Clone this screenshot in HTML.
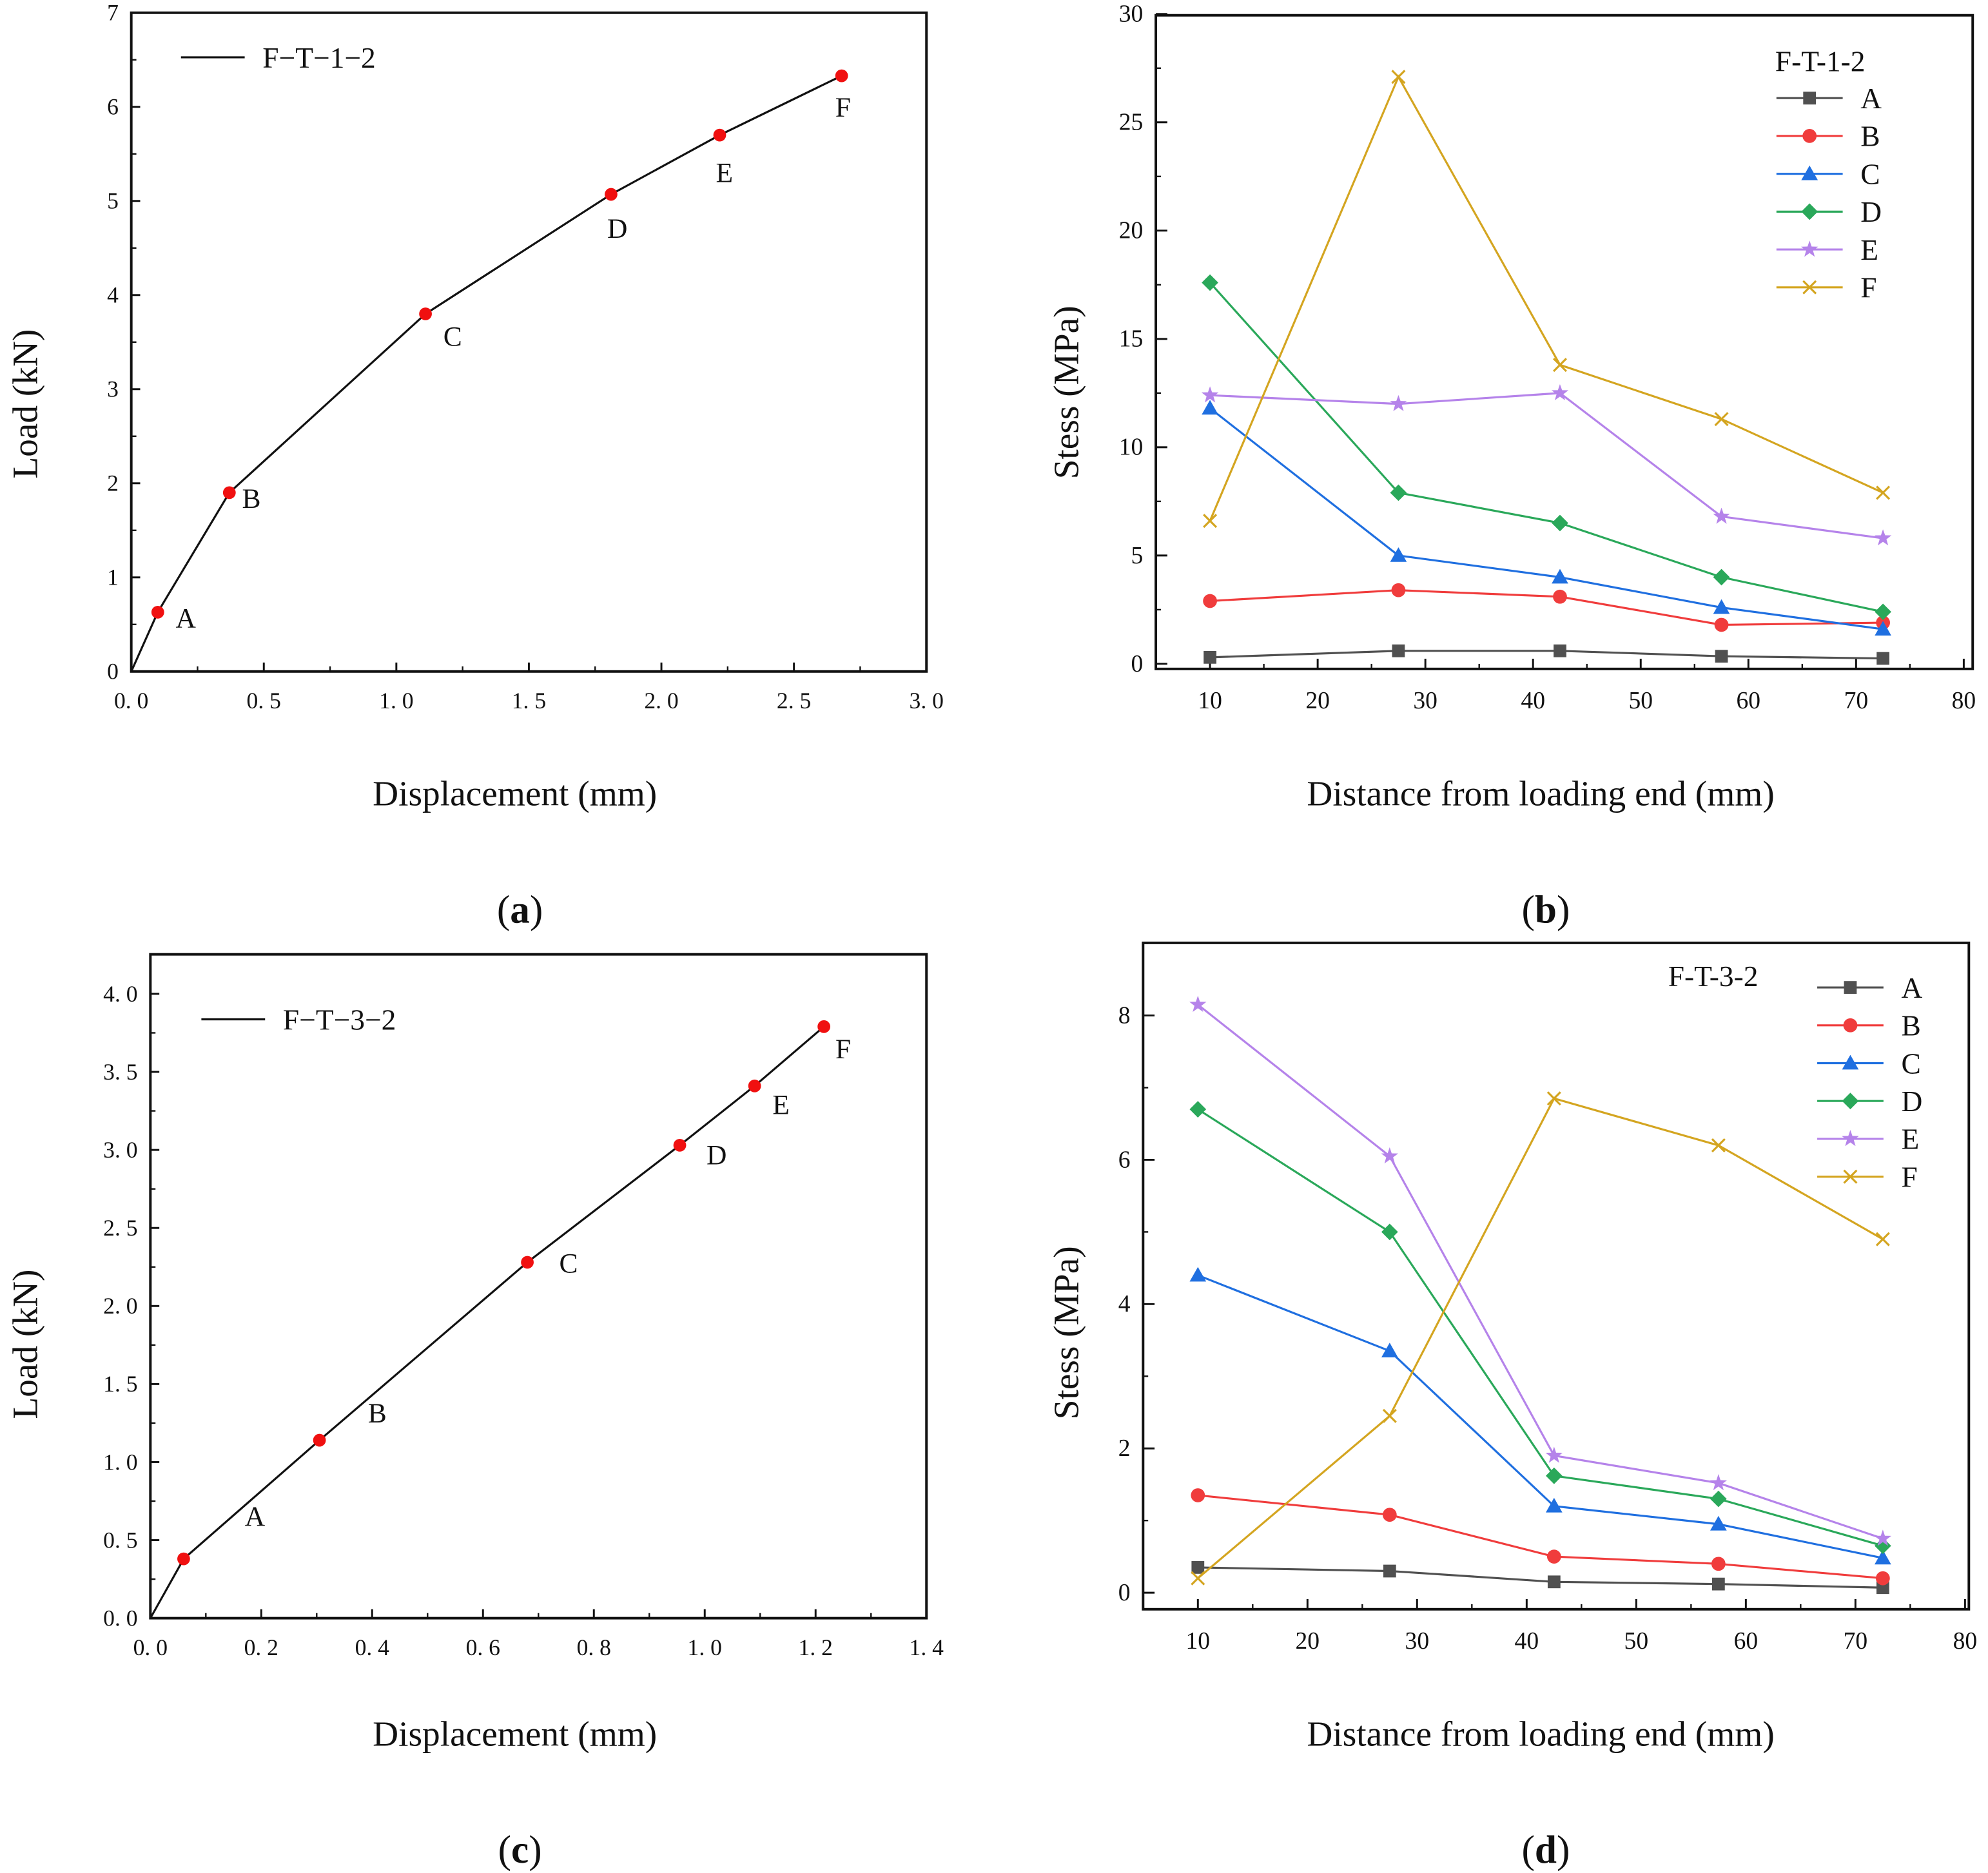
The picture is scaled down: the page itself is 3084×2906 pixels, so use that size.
<!DOCTYPE html>
<html><head><meta charset="utf-8"><style>
html,body{margin:0;padding:0;background:#fff}
svg{display:block}
text,tspan{font-family:"Liberation Serif",serif;fill:#111}
</style></head><body>
<svg id="fig" xmlns="http://www.w3.org/2000/svg" width="3084" height="2906" viewBox="0 0 1560 1470" font-family="Liberation Serif, serif"></svg>
<script>
// Panel a
const aX=[0,0.1,0.37,1.11,1.81,2.22,2.68];
const aY=[0,0.63,1.9,3.8,5.07,5.7,6.33];
const aLabels=["","A","B","C","D","E","F"];
const aXTicks=["0. 0","0. 5","1. 0","1. 5","2. 0","2. 5","3. 0"];
const aYTicks=["0","1","2","3","4","5","6","7"];
// Panel c
const cX=[0,0.06,0.305,0.68,0.955,1.09,1.215];
const cY=[0,0.38,1.14,2.28,3.03,3.41,3.79];
const cLabels=["","A","B","C","D","E","F"];
const cXTicks=["0. 0","0. 2","0. 4","0. 6","0. 8","1. 0","1. 2","1. 4"];
const cYTicks=["0. 0","0. 5","1. 0","1. 5","2. 0","2. 5","3. 0","3. 5","4. 0"];
// Panel b
const dist=[10,27.5,42.5,57.5,72.5];
const bA=[0.3,0.6,0.6,0.35,0.25];
const bB=[2.9,3.4,3.1,1.8,1.9];
const bC=[11.8,5.0,4.0,2.6,1.6];
const bD=[17.6,7.9,6.5,4.0,2.4];
const bE=[12.4,12.0,12.5,6.8,5.8];
const bF=[6.6,27.1,13.8,11.3,7.9];
const bYTicks=[0,5,10,15,20,25,30];
const distTicks=[10,20,30,40,50,60,70,80];
// Panel d
const dA=[0.35,0.3,0.15,0.12,0.07];
const dB=[1.35,1.08,0.5,0.4,0.2];
const dC=[4.4,3.35,1.2,0.95,0.48];
const dD=[6.7,5.0,1.62,1.3,0.65];
const dE=[8.15,6.05,1.9,1.52,0.75];
const dF=[0.2,2.45,6.85,6.2,4.9];
const dYTicks=[0,2,4,6,8];
const seriesNames=["A","B","C","D","E","F"];
const colors=["#505050","#f03c3c","#1f6fe0","#2aa85a","#b583ea","#d4a520"];
const shapes=["square","circle","triangle","diamond","star","x"];

const NS="http://www.w3.org/2000/svg";
const svg=document.getElementById('fig');
const FF="Liberation Serif, serif";
function el(tag,attrs,parent,txt){const e=document.createElementNS(NS,tag);for(const k in attrs)e.setAttribute(k,attrs[k]);if(tag==='text')e.setAttribute('font-family',FF);if(txt!==undefined)e.textContent=txt;(parent||svg).appendChild(e);return e;}
function grp(name){const g=el('g',{});return g;}
function lin(d0,d1,r0,r1){return v=>r0+(v-d0)*(r1-r0)/(d1-d0);}

function marker(g,shape,x,y,c){
  let m;
  if(shape==="square")m=el('rect',{x:x-5,y:y-5,width:10,height:10,fill:c},g);
  else if(shape==="circle")m=el('circle',{cx:x,cy:y,r:5.5,fill:c},g);
  else if(shape==="triangle")m=el('polygon',{points:`${x},${y-6.5} ${x+6.5},${y+5} ${x-6.5},${y+5}`,fill:c},g);
  else if(shape==="diamond")m=el('polygon',{points:`${x},${y-6.5} ${x+6.5},${y} ${x},${y+6.5} ${x-6.5},${y}`,fill:c},g);
  else if(shape==="star"){let p=[];for(let i=0;i<10;i++){const r=i%2?2.8:7,a=-Math.PI/2+i*Math.PI/5;p.push((x+r*Math.cos(a)).toFixed(1)+","+(y+r*Math.sin(a)).toFixed(1));}m=el('polygon',{points:p.join(' '),fill:c},g);}
  else {m=el('path',{d:`M${x-5},${y-5}L${x+5},${y+5}M${x+5},${y-5}L${x-5},${y+5}`,stroke:c,'stroke-width':1.6,fill:'none'},g);}
  
  
  return m;
}

function frame(g,x0,y0,x1,y1){
  const r=el('rect',{x:x0,y:y0,width:x1-x0,height:y1-y0,fill:'none',stroke:'#111','stroke-width':2},g);
  
  
}

function loadPanel(name,box,xmax,ymax,yTopPx,xstep,ystep,xs,ys,labs,xt,yt,legend,labOff,yTickFont){
  const g=grp(name);
  const [x0,y0,x1,y1]=box;
  const X=lin(0,xmax,x0,x1),Y=lin(0,ymax,y1,yTopPx);
  frame(g,x0,y0,x1,y1);
  xt.forEach((t,i)=>{const v=i*xstep,px=X(v);
    el('line',{x1:px,y1:y1,x2:px,y2:y1-7,stroke:'#111','stroke-width':1.5},g);
    if(i<xt.length-1){const pm=X(v+xstep/2);el('line',{x1:pm,y1:y1,x2:pm,y2:y1-4,stroke:'#111','stroke-width':1.2},g);}
    const t1=el('text',{x:px,y:y1+29,'text-anchor':'middle','font-size':18},g,t);
    });
  yt.forEach((t,i)=>{const v=i*ystep,py=Y(v);
    el('line',{x1:x0,y1:py,x2:x0+7,y2:py,stroke:'#111','stroke-width':1.5},g);
    if(i<yt.length-1){const pm=Y(v+ystep/2);el('line',{x1:x0,y1:pm,x2:x0+4,y2:pm,stroke:'#111','stroke-width':1.2},g);}
    const t1=el('text',{x:x0-10,y:py+6,'text-anchor':'end','font-size':yTickFont},g,t);
    });
  const pts=xs.map((v,i)=>X(v)+","+Y(ys[i])).join(' ');
  const pl=el('polyline',{points:pts,fill:'none',stroke:'#111','stroke-width':1.6},g);
  
  xs.forEach((v,i)=>{if(!labs[i])return;
    const c=el('circle',{cx:X(v),cy:Y(ys[i]),r:5,fill:'#f01010'},g);
    
    const o=labOff[i];
    const t=el('text',{x:X(v)+o[0],y:Y(ys[i])+o[1],'font-size':22},g,labs[i]);
    });
  const lg=el('line',{x1:legend[0],y1:legend[1],x2:legend[0]+50,y2:legend[1],stroke:'#111','stroke-width':1.6},g);
  
  const lt=el('text',{x:legend[0]+64,y:legend[1]+8,'font-size':23},g,legend[2]);
  
  return g;
}

function stressPanel(name,box,xmin,xmax,ymax,y0v,yTopPx,yt,minorStep,series,leg){
  const g=grp(name);
  const [x0,y0,x1,y1]=box;
  const X=lin(10,20,xmin,xmax),Y=lin(0,ymax,y0v,yTopPx);
  frame(g,x0,y0,x1,y1);
  distTicks.forEach((v,i)=>{const px=X(v);
    el('line',{x1:px,y1:y1,x2:px,y2:y1-8,stroke:'#111','stroke-width':1.5},g);
    const pm=X(v-5);if(pm>x0)el('line',{x1:pm,y1:y1,x2:pm,y2:y1-4,stroke:'#111','stroke-width':1.2},g);
    const t=el('text',{x:px,y:y1+31,'text-anchor':'middle','font-size':19},g,String(v));
    });
  yt.forEach((v,i)=>{const py=Y(v);
    el('line',{x1:x0,y1:py,x2:x0+9,y2:py,stroke:'#111','stroke-width':1.5},g);
    const pm=Y(v+minorStep);if(pm>y0)el('line',{x1:x0,y1:pm,x2:x0+4,y2:pm,stroke:'#111','stroke-width':1.2},g);
    const t=el('text',{x:x0-10,y:py+6,'text-anchor':'end','font-size':19},g,String(v));
    });
  series.forEach((s,k)=>{
    const sg=el('g',{},g);
    el('polyline',{points:dist.map((d,i)=>X(d)+","+Y(s[i])).join(' '),fill:'none',stroke:colors[k],'stroke-width':1.6},sg);
    dist.forEach((d,i)=>marker(sg,shapes[k],X(d),Y(s[i]),colors[k]));
  });
  const lgG=el('g',{},g);
  const tt=el('text',{x:leg.tx,y:leg.ty,'font-size':23},lgG,leg.title);
  
  seriesNames.forEach((n,k)=>{const y=leg.y+k*29.7;
    const e=el('g',{},lgG);
    el('line',{x1:leg.x,y1:y,x2:leg.x+52,y2:y,stroke:colors[k],'stroke-width':1.6},e);
    marker(e,shapes[k],leg.x+26,y,colors[k]);
    el('text',{x:leg.x+66,y:y+8,'font-size':23},e,n);});
  return g;
}

loadPanel('chart-a',[103,10,727,527],3.0,7,10,0.5,1,aX,aY,aLabels,aXTicks,aYTicks,[142,45,"F−T−1−2"],
 [[0,0],[14,12],[10,12],[14,25],[-3,34],[-3,37],[-5,32]],18);
loadPanel('chart-c',[118,749,727,1270],1.4,4.0,780,0.2,0.5,cX,cY,cLabels,cXTicks,cYTicks,[158,800,"F−T−3−2"],
 [[0,0],[48,-26],[38,-14],[25,8],[21,15],[14,22],[9,25]],18);
stressPanel('chart-b',[907,12,1548,525],949.5,1034,30,521,11,bYTicks,2.5,[bA,bB,bC,bD,bE,bF],
 {tx:1393,ty:56,title:"F-T-1-2",x:1394,y:77});
stressPanel('chart-d',[897,740,1545,1263],940,1026,8,1250,797,dYTicks,1,[dA,dB,dC,dD,dE,dF],
 {tx:1309,ty:774,title:"F-T-3-2",x:1426,y:775});

function txt(name,x,y,s,size,rot){const a={x:x,y:y,'text-anchor':'middle','font-size':size};if(rot)a.transform=`rotate(-90 ${x} ${y})`;const t=el('text',a,svg,s);return t;}
txt('x-axis-title-a',404,632,"Displacement (mm)",28);
txt('y-axis-title-a',29,317,"Load (kN)",28,true);
txt('x-axis-title-b',1209,632,"Distance from loading end (mm)",28);
txt('y-axis-title-b',846,308,"Stess (MPa)",28,true);
txt('x-axis-title-c',404,1370,"Displacement (mm)",28);
txt('y-axis-title-c',29,1055,"Load (kN)",28,true);
txt('x-axis-title-d',1209,1370,"Distance from loading end (mm)",28);
txt('y-axis-title-d',846,1046,"Stess (MPa)",28,true);
[["(a)",408,724],["(b)",1213,724],["(c)",408,1462],["(d)",1213,1462]].forEach(c=>{
  const t=el('text',{x:c[1],y:c[2],'text-anchor':'middle','font-size':31});
  
  el('tspan',{},t,"(");el('tspan',{'font-weight':'bold'},t,c[0][1]);el('tspan',{},t,")");
});
</script>
</body></html>
